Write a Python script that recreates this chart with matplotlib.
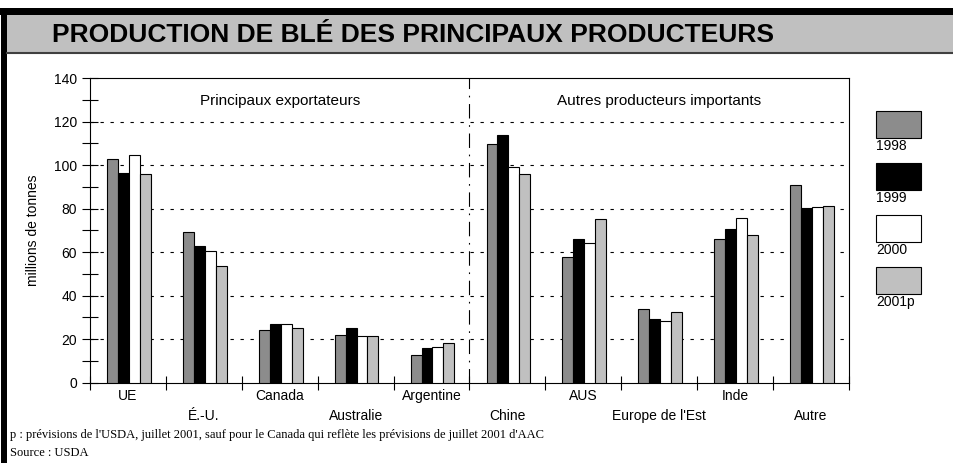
import numpy as np
import matplotlib.pyplot as plt
from matplotlib.patches import Rectangle
from matplotlib.lines import Line2D

plt.rcParams['font.family'] = ['Liberation Sans', 'DejaVu Sans']

pays = ['UE', 'É.-U.', 'Canada', 'Australie', 'Argentine',
        'Chine', 'AUS', "Europe de l'Est", 'Inde', 'Autre']
annees = ['1998', '1999', '2000', '2001p']
v1998 = [103, 69.3, 24.3, 21.7, 12.5, 109.7, 57.7, 34.0, 66.2, 90.7]
v1999 = [96.5, 62.6, 27.1, 25.2, 15.9, 113.8, 66.2, 29.1, 70.8, 80.3]
v2000 = [104.8, 60.6, 27.1, 21.3, 16.5, 99.3, 64.3, 28.2, 75.7, 80.6]
v2001 = [95.9, 53.7, 25.2, 21.6, 18.1, 95.9, 75.4, 32.4, 67.9, 81.4]
series = [v1998, v1999, v2000, v2001]
couleurs = ['#8c8c8c', '#000000', '#ffffff', '#c0c0c0']

W, H = 954, 463
fig = plt.figure(figsize=(W / 100, H / 100), dpi=100)

# cadre : barre noire en haut et a gauche, bandeau gris du titre
fig.patches.append(Rectangle((0, 1 - 15 / H), 1, 7 / H, transform=fig.transFigure,
                             facecolor='black', edgecolor='none'))
fig.patches.append(Rectangle((1 / W, 0), 6 / W, 1 - 8 / H, transform=fig.transFigure,
                             facecolor='black', edgecolor='none'))
fig.patches.append(Rectangle((7 / W, 1 - 53 / H), 1, 38 / H, transform=fig.transFigure,
                             facecolor='#c0c0c0', edgecolor='none'))
fig.lines.append(Line2D([7 / W, 1], [1 - 53 / H, 1 - 53 / H], transform=fig.transFigure,
                        color='#404040', lw=1.5))
fig.text(52 / W, 1 - 35 / H, 'PRODUCTION DE BLÉ DES PRINCIPAUX PRODUCTEURS',
         fontsize=19, fontweight='bold', va='center', ha='left')

ax = fig.add_axes([90 / W, (H - 382.7) / H, 759 / W, 304.7 / H])
x = np.arange(len(pays)) + 0.5
w = 0.144
for i, (vals, c) in enumerate(zip(series, couleurs)):
    ax.bar(x + (i - 1.5) * w + 0.012, vals, w, color=c, edgecolor='black', lw=0.8,
           zorder=3, label=annees[i])

ax.set_xlim(0, 10)
ax.set_ylim(0, 140)
ax.set_yticks(np.arange(0, 141, 20))
ax.set_yticks(np.arange(10, 140, 20), minor=True)
ax.set_xticks(np.arange(0, 11))
ax.set_xticklabels([])
ax.tick_params(axis='y', which='both', direction='inout', length=12, width=0.8, labelsize=10)
ax.tick_params(axis='x', direction='inout', length=10, width=0.8)
for g in [20, 40, 60, 80, 100, 120]:
    ax.axhline(g, color='black', lw=0.8, dashes=(3, 6), zorder=1)
ax.axvline(5, color='black', lw=0.8, dashes=(13, 6, 1.5, 6), zorder=2)
for s in ax.spines.values():
    s.set_linewidth(0.8)

for i, p in enumerate(pays):
    ax.text(x[i], -6 if i % 2 == 0 else -15.5, p, ha='center', va='center', fontsize=10)

ax.text(2.5, 129.5, 'Principaux exportateurs', ha='center', va='center', fontsize=11)
ax.text(7.5, 129.5, 'Autres producteurs importants', ha='center', va='center', fontsize=11)
ax.set_ylabel('millions de tonnes', fontsize=10, labelpad=10)

# legende
for i, (a, c) in enumerate(zip(annees, couleurs)):
    y0 = 111 + i * 52
    fig.patches.append(Rectangle((876 / W, 1 - (y0 + 27) / H), 45 / W, 27 / H,
                                 transform=fig.transFigure, facecolor=c,
                                 edgecolor='black', lw=0.8))
    fig.text(876 / W, 1 - (y0 + 35) / H, a, fontsize=10, ha='left', va='center')

fig.text(10 / W, 1 - 435 / H,
         "p : prévisions de l'USDA, juillet 2001, sauf pour le Canada qui reflète les prévisions de juillet 2001 d'AAC",
         fontsize=9, family='Liberation Serif', va='center')
fig.text(10 / W, 1 - 453 / H, 'Source : USDA', fontsize=9, family='Liberation Serif', va='center')

fig.savefig('out.png', dpi=100)
